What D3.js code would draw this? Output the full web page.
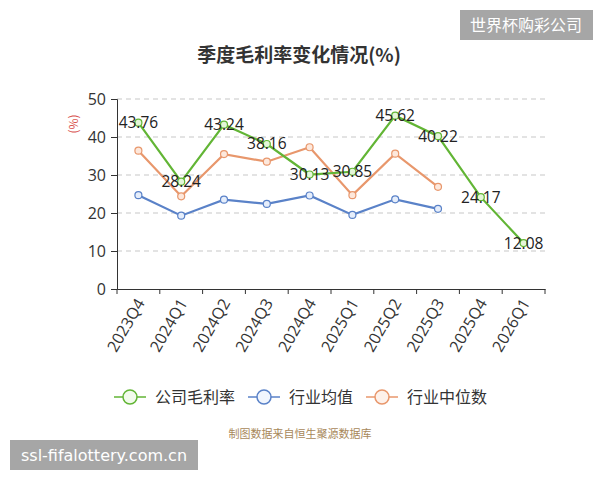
<!DOCTYPE html>
<html>
<head>
<meta charset="utf-8">
<script src="https://cdn.jsdelivr.net/npm/d3@7"></script>
<style>
  body { margin: 0; background: #fff; }
  svg { font-family: "Noto Sans CJK SC", "Open Sans", sans-serif; }
</style>
</head>
<body>
<svg id="mainSvg" width="600" height="480"></svg>
<script>
// quarters on the x axis
let quarters = ['2023Q4','2024Q1','2024Q2','2024Q3','2024Q4','2025Q1','2025Q2','2025Q3','2025Q4','2026Q1']
// company gross margin (%)
let company = [43.76, 28.24, 43.24, 38.16, 30.13, 30.85, 45.62, 40.22, 24.17, 12.08]
// industry average, industry median
let industryAvg = [24.7, 19.3, 23.5, 22.4, 24.6, 19.5, 23.6, 21.1]
let industryMed = [36.4, 24.4, 35.5, 33.5, 37.3, 24.7, 35.6, 26.9]
let yTicks = [0, 10, 20, 30, 40, 50]

let svg = d3.select('#mainSvg')
let plotLeft = 117, plotRight = 545, plotTop = 99, plotBottom = 289

let x = d3.scaleBand().domain(quarters).range([plotLeft, plotRight])
let y = d3.scaleLinear().domain([0, 50]).range([plotBottom, plotTop])

// title
svg.append('text')
  .attr('x', 299).attr('y', 62)
  .attr('text-anchor', 'middle')
  .attr('font-size', 19).attr('font-weight', 'bold')
  .attr('fill', '#333')
  .text('季度毛利率变化情况(%)')

// grid
svg.append('g').selectAll('line')
  .data(yTicks.filter(d => d > 0))
  .join('line')
  .attr('x1', plotLeft).attr('x2', plotRight)
  .attr('y1', d => y(d)).attr('y2', d => y(d))
  .attr('stroke', '#c8c8c8')
  .attr('stroke-dasharray', '5,4')
  .attr('stroke-width', 1.2)

// y axis
let yAxis = svg.append('g')
  .attr('transform', `translate(${plotLeft},0)`)
  .call(d3.axisLeft(y).tickValues(yTicks).tickSize(6).tickPadding(5))
yAxis.select('.domain').attr('stroke', '#333')
yAxis.selectAll('.tick line').attr('stroke', '#333')
yAxis.selectAll('text').attr('font-size', 16).attr('fill', '#333')
  .attr('font-family', '"Open Sans", sans-serif')

svg.append('text')
  .attr('transform', 'translate(78,124) rotate(-90)')
  .attr('text-anchor', 'middle')
  .attr('font-size', 12).attr('fill', '#d9534f')
  .text('(%)')

// x axis
let xAxis = svg.append('g')
  .attr('transform', `translate(0,${plotBottom})`)
  .call(d3.axisBottom(x).tickSize(0).tickFormat(''))
xAxis.select('.domain').attr('stroke', '#333')
svg.append('g').selectAll('line')
  .data(quarters.concat(['end']))
  .join('line')
  .attr('x1', (d, i) => plotLeft + i * x.step()).attr('x2', (d, i) => plotLeft + i * x.step())
  .attr('y1', plotBottom).attr('y2', plotBottom + 5)
  .attr('stroke', '#333')
svg.append('g').selectAll('text')
  .data(quarters)
  .join('text')
  .attr('transform', d => `translate(${x(d) + x.bandwidth() / 2 + 2},${plotBottom + 11}) rotate(-60)`)
  .attr('text-anchor', 'end')
  .attr('dy', '0.35em')
  .attr('font-size', 16).attr('fill', '#333')
  .attr('font-family', '"Open Sans", sans-serif')
  .text(d => d)

let cx = (d, i) => x(quarters[i]) + x.bandwidth() / 2
let series = [
  {name: '行业均值', values: industryAvg, color: '#5a82c8', fill: '#e6eefb'},
  {name: '行业中位数', values: industryMed, color: '#e8976c', fill: '#fde8dc'},
  {name: '公司毛利率', values: company, color: '#62b535', fill: '#e4f6d8'}
]
let line = d3.line().x(cx).y(d => y(d))

series.forEach(s => {
  svg.append('path')
    .datum(s.values)
    .attr('d', line)
    .attr('fill', 'none')
    .attr('stroke', s.color)
    .attr('stroke-width', 2.2)
  svg.append('g').selectAll('circle')
    .data(s.values)
    .join('circle')
    .attr('cx', cx).attr('cy', d => y(d))
    .attr('r', 3.5)
    .attr('fill', s.fill)
    .attr('stroke', s.color)
    .attr('stroke-width', 1.2)
})

// value labels for company
svg.append('g').selectAll('text')
  .data(company)
  .join('text')
  .attr('x', cx).attr('y', d => y(d))
  .attr('dy', '0.35em')
  .attr('text-anchor', 'middle')
  .attr('font-size', 15.5).attr('fill', '#222')
  .attr('font-family', '"Open Sans", sans-serif')
  .text(d => d.toFixed(2))

// legend
let legendItems = [
  {name: '公司毛利率', color: '#62b535', fill: '#f2fbec', x: 114},
  {name: '行业均值', color: '#5a82c8', fill: '#f0f5fd', x: 248},
  {name: '行业中位数', color: '#e8976c', fill: '#fdf1ea', x: 366}
]
let lg = svg.append('g').selectAll('g')
  .data(legendItems)
  .join('g')
  .attr('transform', d => `translate(${d.x},397)`)
lg.append('line')
  .attr('x1', 0).attr('x2', 32)
  .attr('stroke', d => d.color).attr('stroke-width', 1.5)
lg.append('circle')
  .attr('cx', 16).attr('r', 7)
  .attr('fill', d => d.fill)
  .attr('stroke', d => d.color).attr('stroke-width', 1.5)
lg.append('text')
  .attr('x', 41).attr('dy', '0.35em')
  .attr('font-size', 16).attr('fill', '#333')
  .text(d => d.name)

// source note
svg.append('text')
  .attr('x', 300).attr('y', 438)
  .attr('text-anchor', 'middle')
  .attr('font-size', 11).attr('fill', '#a8885a')
  .text('制图数据来自恒生聚源数据库')

// watermarks
svg.append('rect').attr('x', 460).attr('y', 10).attr('width', 133).attr('height', 30).attr('fill', '#a6a6a6')
svg.append('text').attr('x', 526).attr('y', 25).attr('dy', '0.35em')
  .attr('text-anchor', 'middle').attr('font-size', 16).attr('fill', '#fff')
  .text('世界杯购彩公司')
svg.append('rect').attr('x', 10).attr('y', 440).attr('width', 188).attr('height', 30).attr('fill', '#a6a6a6')
svg.append('text').attr('x', 104).attr('y', 455).attr('dy', '0.35em')
  .attr('text-anchor', 'middle').attr('font-size', 16).attr('fill', '#fff')
  .attr('font-family', '"DejaVu Sans", sans-serif')
  .text('ssl-fifalottery.com.cn')
</script>
</body>
</html>
